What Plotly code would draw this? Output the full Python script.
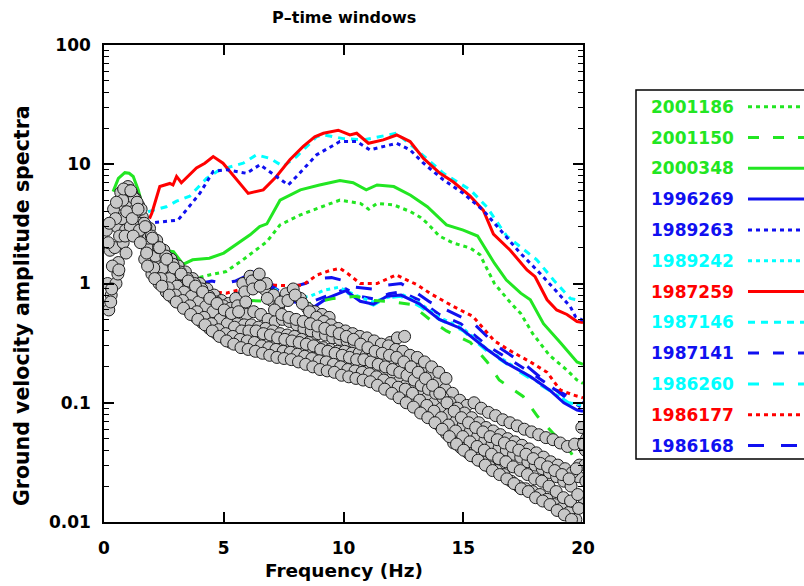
import plotly.graph_objects as go

# ---------------- data ----------------
names = ["2001186", "2001150", "2000348", "1996269", "1989263", "1989242",
         "1987259", "1987146", "1987141", "1986260", "1986177", "1986168"]
colors = ["#22e622", "#22e622", "#22e622", "#1010f0", "#1010f0", "#00ffff",
          "#ff0000", "#00ffff", "#1010f0", "#00ffff", "#ff0000", "#1010f0"]
dashes = ["4px,4px", "11px,14px", "solid", "solid", "4px,4px", "4px,4px",
          "solid", "7px,6px", "11px,14px", "11px,14px", "4px,4px", "16px,17px"]

f_2001186 = [3.0, 3.8, 4.4, 5.1, 5.8, 6.5, 6.8, 7.35, 8.2, 9.3, 9.85, 10.7, 11.05, 11.4, 12.1, 12.8,
             13.2, 13.5, 14.0, 14.6, 15.3, 15.7, 16.3, 17.0, 17.4, 17.9, 18.6, 19.3, 19.75, 20.0]
a_2001186 = [1.05, 1.1, 1.18, 1.26, 1.58, 2.04, 2.24, 3.1, 3.76, 4.56, 5.0, 4.7, 4.2, 4.7, 4.56, 4.0,
             3.6, 3.2, 2.5, 2.18, 1.98, 1.74, 1.0, 0.68, 0.56, 0.38, 0.25, 0.19, 0.155, 0.145]

f_2001150 = [2.5, 3.3, 4.2, 5.0, 6.0, 6.9, 7.8, 8.6, 9.6, 10.5, 11.2, 11.8, 12.8, 13.6, 14.3,
             15.3, 16.0, 16.5, 17.5, 18.1, 18.9, 19.5, 19.9]
a_2001150 = [1.6, 1.2, 0.85, 0.71, 0.72, 0.71, 0.7, 0.68, 0.75, 0.78, 0.72, 0.71, 0.67, 0.5, 0.4,
             0.32, 0.22, 0.155, 0.113, 0.077, 0.052, 0.038, 0.028]

f_2000348 = [0.38, 0.6, 0.87, 1.05, 1.22, 1.43, 1.6, 1.8, 2.0, 2.2, 2.5, 2.9, 3.3, 3.7, 4.4, 5.0,
             5.5, 6.1, 6.5, 6.8, 7.35, 8.2, 9.0, 9.85, 10.4, 10.95, 11.4, 12.1, 12.8, 13.5, 14.3,
             15.0, 15.6, 16.3, 16.8, 17.4, 17.8, 18.35, 19.05, 19.75, 20.0]
a_2000348 = [5.9, 7.6, 8.5, 8.4, 7.9, 6.1, 4.5, 3.2, 2.3, 1.85, 1.9, 1.85, 1.45, 1.58, 1.63, 1.8,
             2.1, 2.56, 3.0, 3.16, 5.0, 6.1, 6.7, 7.3, 7.0, 6.1, 6.7, 6.5, 5.5, 4.4, 3.1,
             2.8, 2.5, 1.48, 1.07, 0.83, 0.73, 0.46, 0.32, 0.22, 0.21]

f_1996269 = [1.5, 2.0, 2.5, 3.0, 3.5, 4.0, 4.6, 5.1, 5.5, 5.9, 6.2, 6.5, 6.8, 7.2, 7.7, 8.3, 8.8,
             9.3, 10.1, 10.7, 11.25, 11.8, 12.4, 13.2, 13.6, 14.0, 14.9, 16.0, 16.8, 17.8, 18.6,
             19.2, 19.75, 20.0]
a_1996269 = [4.5, 2.6, 1.9, 1.65, 1.05, 0.82, 0.68, 0.6, 0.62, 0.95, 1.25, 1.15, 1.0, 0.8, 0.72,
             0.67, 0.64, 0.75, 0.87, 0.71, 0.67, 0.78, 0.8, 0.67, 0.58, 0.5, 0.42, 0.28, 0.215,
             0.166, 0.128, 0.1, 0.087, 0.085]

f_1989263 = [1.8, 2.4, 3.09, 3.51, 4.0, 4.56, 5.12, 5.95, 6.51, 7.2, 7.69, 8.04, 8.88, 9.85, 10.55,
             11.1, 11.66, 12.22, 12.78, 13.34, 14.17, 15.0, 15.84, 16.54, 17.38, 18.2, 18.9, 19.47,
             19.68, 20.0]
a_1989263 = [3.2, 3.3, 3.4, 4.3, 5.7, 8.7, 9.0, 8.4, 9.9, 7.9, 6.7, 7.9, 12.0, 15.5, 15.5,
             13.2, 14.1, 15.0, 13.2, 10.2, 7.4, 5.7, 4.1, 2.8, 1.8, 1.22, 0.86, 0.64, 0.53, 0.49]

f_1989242 = [1.5, 2.0, 2.5, 3.0, 3.5, 4.0, 4.6, 5.1, 5.5, 5.9, 6.3, 6.8, 7.3, 7.8, 8.6, 9.2, 9.8,
             10.5, 11.2, 11.9, 12.5, 13.2, 14.0, 15.0, 16.0, 17.0, 18.0, 18.8, 19.4, 20.0]
a_1989242 = [4.4, 2.5, 1.85, 1.6, 1.05, 0.82, 0.7, 0.62, 0.7, 1.0, 1.2, 1.0, 0.85, 0.75, 0.78,
             0.88, 0.93, 0.8, 0.7, 0.77, 0.8, 0.68, 0.52, 0.42, 0.28, 0.21, 0.155, 0.12, 0.1, 0.095]

f_1987259 = [1.9, 2.0, 2.33, 2.75, 2.88, 3.03, 3.23, 3.86, 4.21, 4.56, 4.97, 5.53, 6.02, 6.65, 7.2,
             7.76, 8.32, 8.8, 9.16, 9.78, 10.27, 10.55, 11.04, 11.66, 12.22, 12.78, 13.34, 14.03,
             14.59, 15.29, 15.84, 16.26, 16.96, 17.66, 18.0, 18.5, 18.9, 19.33, 19.75, 20.0]
a_1987259 = [3.5, 3.9, 6.5, 6.9, 6.7, 7.9, 7.0, 9.3, 10.2, 11.6, 10.2, 7.4, 5.7, 6.1, 7.9,
             10.9, 14.1, 17.0, 18.2, 19.3, 17.6, 18.2, 15.0, 16.0, 17.6, 15.5, 11.2, 8.4,
             7.1, 5.4, 4.1, 2.6, 1.9, 1.3, 1.14, 0.73, 0.6, 0.55, 0.48, 0.47]

f_1987146 = [1.84, 2.6, 3.03, 3.58, 4.28, 4.84, 5.81, 6.37, 6.93, 7.48, 8.04, 8.88, 9.2, 9.99,
             10.83, 12.22, 13.06, 14.17, 15.29, 15.98, 16.54, 16.82, 18.07, 18.77, 19.47, 19.9]
a_1987146 = [4.0, 4.4, 4.9, 5.4, 7.6, 9.0, 10.2, 12.0, 11.2, 9.6, 11.6, 17.0, 17.6, 16.4,
             16.0, 18.2, 13.2, 8.4, 6.1, 4.4, 3.0, 2.5, 1.58, 1.07, 0.75, 0.72]

f_1987141 = [1.5, 2.0, 2.6, 3.0, 3.5, 4.0, 4.6, 5.2, 5.7, 6.1, 6.5, 7.0, 7.5, 8.2, 8.8, 9.4, 10.1,
             10.7, 11.3, 11.9, 12.4, 13.2, 14.0, 14.9, 16.0, 16.8, 17.8, 18.7, 19.3, 19.9]
a_1987141 = [4.5, 2.6, 1.9, 1.65, 1.1, 0.85, 0.72, 0.65, 0.85, 1.2, 1.15, 0.95, 0.82, 0.75, 0.72,
             0.8, 0.9, 0.78, 0.74, 0.82, 0.85, 0.72, 0.55, 0.46, 0.3, 0.24, 0.18, 0.135, 0.11, 0.092]

f_1986260 = [1.5, 2.0, 2.5, 3.0, 3.5, 4.0, 4.6, 5.1, 5.5, 5.9, 6.2, 6.5, 6.8, 7.2, 7.7, 8.3, 8.8,
             9.3, 10.1, 10.7, 11.25, 11.8, 12.4, 13.2, 14.0, 15.0, 16.0, 17.0, 18.0, 18.8, 19.4, 20.0]
a_1986260 = [4.4, 2.5, 1.85, 1.6, 1.0, 0.8, 0.66, 0.6, 0.65, 1.0, 1.28, 1.2, 0.98, 0.78, 0.7,
             0.66, 0.66, 0.74, 0.85, 0.72, 0.66, 0.76, 0.78, 0.64, 0.5, 0.4, 0.27, 0.2, 0.15,
             0.12, 0.1, 0.092]

f_1986177 = [2.5, 3.0, 3.5, 4.0, 4.4, 5.1, 5.8, 6.9, 7.6, 8.3, 8.9, 9.4, 9.85, 10.2, 10.7, 11.4,
             12.2, 13.1, 13.6, 14.6, 15.4, 16.3, 17.0, 17.8, 18.5, 19.05, 19.6, 20.0]
a_1986177 = [1.9, 1.5, 1.1, 0.88, 0.86, 0.83, 0.9, 0.97, 0.96, 0.97, 1.18, 1.28, 1.34, 1.2, 1.0,
             1.0, 1.18, 0.97, 0.83, 0.64, 0.53, 0.33, 0.27, 0.22, 0.18, 0.128, 0.116, 0.11]

f_1986168 = [2.0, 2.6, 3.0, 3.5, 4.0, 4.5, 5.0, 5.5, 6.1, 6.6, 7.2, 7.8, 8.4, 8.9, 9.5, 9.9, 10.5,
             11.2, 11.8, 12.4, 13.0, 13.6, 14.3, 15.4, 16.4, 17.7, 18.8, 19.7, 20.0]
a_1986168 = [2.4, 1.9, 1.6, 1.2, 1.0, 1.05, 1.0, 1.05, 1.2, 1.05, 0.95, 0.93, 1.0, 1.1, 1.12, 1.07,
             0.93, 0.9, 0.97, 1.0, 0.85, 0.7, 0.6, 0.47, 0.30, 0.2, 0.13, 0.105, 0.1]

series_f = [f_2001186, f_2001150, f_2000348, f_1996269, f_1989263, f_1989242,
            f_1987259, f_1987146, f_1987141, f_1986260, f_1986177, f_1986168]
series_a = [a_2001186, a_2001150, a_2000348, a_1996269, a_1989263, a_1989242,
            a_1987259, a_1987146, a_1987141, a_1986260, a_1986177, a_1986168]

# noise spectra (grey circles), sampled on a common frequency grid
noise_freq = [0.1, 0.4, 0.7, 1.0, 1.3, 1.6, 1.9, 2.2, 2.5, 2.8, 3.1, 3.4, 3.7, 4.0, 4.3, 4.6,
              4.9, 5.2, 5.5, 5.8, 6.1, 6.4, 6.7, 7.0, 7.3, 7.6, 7.9, 8.2, 8.5, 8.8, 9.1, 9.4,
              9.7, 10.0, 10.3, 10.6, 10.9, 11.2, 11.5, 11.8, 12.1, 12.4, 12.7, 13.0, 13.3, 13.6,
              13.9, 14.2, 14.5, 14.8, 15.1, 15.4, 15.7, 16.0, 16.3, 16.6, 16.9, 17.2, 17.5, 17.8,
              18.1, 18.4, 18.7, 19.0, 19.3, 19.6, 19.9]
noise_a = [2.8, 4.2, 5.8, 6.5, 5.2, 3.6, 2.9, 2.3, 1.9, 1.6, 1.4, 1.25, 1.1, 1.0, 0.9, 0.8,
           0.72, 0.68, 0.75, 1.0, 1.15, 1.1, 0.9, 0.72, 0.65, 0.82, 0.9, 0.75, 0.62, 0.58, 0.55, 0.52]
noise_b = [1.9, 3.0, 4.5, 5.8, 4.5, 3.0, 2.2, 1.8, 1.5, 1.3, 1.15, 1.0, 0.9, 0.8, 0.7, 0.62,
           0.58, 0.55, 0.52, 0.55, 0.58, 0.55, 0.5, 0.48, 0.5, 0.48, 0.45, 0.42, 0.4, 0.38, 0.37,
           0.35, 0.34, 0.33, 0.32, 0.33, 0.32, 0.3, 0.3, 0.32, 0.35, 0.36]
noise_c = [1.0, 2.0, 3.5, 4.8, 4.0, 2.6, 1.9, 1.5, 1.25, 1.1, 0.95, 0.85, 0.78, 0.7, 0.62, 0.56,
           0.52, 0.48, 0.46, 0.45, 0.45, 0.43, 0.42, 0.4, 0.38, 0.37, 0.36, 0.34, 0.32, 0.3, 0.29,
           0.28, 0.27, 0.27, 0.26, 0.26, 0.25, 0.25, 0.24, 0.23, 0.22, 0.21, 0.2, 0.19, 0.18, 0.17,
           0.15, 0.13, 0.12, 0.105, 0.095, 0.1, 0.09, 0.083, 0.078, 0.072, 0.068, 0.064, 0.06,
           0.057, 0.054, 0.051, 0.049, 0.046, 0.043, 0.045, 0.062]
noise_d = [0.8, 1.5, 2.8, 4.0, 3.2, 2.0, 1.5, 1.2, 1.0, 0.88, 0.8, 0.72, 0.65, 0.58, 0.5, 0.45,
           0.42, 0.4, 0.38, 0.36, 0.35, 0.34, 0.33, 0.31, 0.3, 0.29, 0.28, 0.27, 0.26, 0.25, 0.24,
           0.23, 0.22, 0.21, 0.2, 0.2, 0.19, 0.18, 0.17, 0.16, 0.15, 0.14, 0.13, 0.12, 0.11, 0.1,
           0.09, 0.08, 0.07, 0.065, 0.058, 0.052, 0.048, 0.045, 0.042, 0.04, 0.037, 0.035, 0.032,
           0.03, 0.028, 0.026, 0.024, 0.022, 0.02, 0.024, 0.04]
noise_e = [0.6, 1.0, 2.2, 3.0, 2.5, 1.6, 1.2, 1.0, 0.85, 0.75, 0.68, 0.6, 0.53, 0.47, 0.42, 0.38,
           0.35, 0.32, 0.31, 0.3, 0.29, 0.27, 0.26, 0.255, 0.25, 0.24, 0.23, 0.225, 0.215, 0.205,
           0.2, 0.19, 0.18, 0.175, 0.17, 0.165, 0.16, 0.15, 0.14, 0.13, 0.125, 0.12, 0.11, 0.095,
           0.085, 0.075, 0.065, 0.055, 0.046, 0.042, 0.038, 0.035, 0.032, 0.029, 0.027, 0.025,
           0.022, 0.02, 0.019, 0.018, 0.017, 0.0155, 0.014, 0.013, 0.012, 0.0105, 0.016]
noise_f = [1.4, 2.5, 4.0, 5.2, 4.2, 2.4, 1.7, 1.35, 1.1, 0.95, 0.85, 0.78, 0.7, 0.64, 0.58, 0.5,
           0.46, 0.43, 0.4, 0.4, 0.4, 0.38, 0.37, 0.35, 0.34, 0.33, 0.32, 0.31, 0.3, 0.28, 0.27,
           0.26, 0.25, 0.24, 0.23, 0.23, 0.22, 0.21, 0.2, 0.19, 0.18, 0.17, 0.155, 0.14, 0.13, 0.12,
           0.11, 0.1, 0.09, 0.082, 0.075, 0.068, 0.062, 0.058, 0.054, 0.05, 0.047, 0.044, 0.041,
           0.038, 0.035, 0.032, 0.03, 0.028, 0.026, 0.03, 0.05]
noise_g = [2.2, 3.5, 5.0, 6.0, 4.8, 3.2, 2.5, 2.0, 1.7, 1.45, 1.25, 1.1, 1.0, 0.9, 0.78, 0.7,
           0.65, 0.62, 0.65, 0.85, 1.05, 1.2, 1.0, 0.8, 0.7, 0.72, 0.8, 0.68, 0.58, 0.52, 0.48,
           0.45, 0.42, 0.4, 0.38, 0.36, 0.35, 0.33, 0.31, 0.3, 0.28, 0.27, 0.25, 0.24, 0.22, 0.2,
           0.18, 0.16]
noise_h = [0.7, 1.2, 2.5, 3.5, 2.8, 1.8, 1.35, 1.1, 0.92, 0.8, 0.72, 0.65, 0.58, 0.52, 0.46, 0.41,
           0.38, 0.36, 0.34, 0.33, 0.32, 0.3, 0.29, 0.28, 0.27, 0.265, 0.255, 0.245, 0.235, 0.225,
           0.22, 0.21, 0.2, 0.19, 0.185, 0.18, 0.175, 0.165, 0.155, 0.145, 0.135, 0.13, 0.12,
           0.105, 0.095, 0.085, 0.075, 0.065, 0.058, 0.052, 0.047, 0.043, 0.04, 0.037, 0.034,
           0.032, 0.029, 0.027, 0.025, 0.023, 0.022, 0.02, 0.018, 0.016, 0.015, 0.017, 0.03]
noise_i = [3.2, 4.8, 6.2, 6.0, 4.2, 3.0, 2.4, 2.0, 1.6, 1.35, 1.2, 1.05, 0.95, 0.85, 0.75, 0.68,
           0.6, 0.56, 0.58, 0.7, 0.9, 0.95, 0.75, 0.6, 0.55, 0.52, 0.5, 0.48, 0.46, 0.44, 0.42,
           0.4, 0.38, 0.36, 0.34, 0.31, 0.29, 0.27, 0.26, 0.25, 0.24, 0.22, 0.2, 0.18, 0.16, 0.14,
           0.12, 0.1, 0.085, 0.075, 0.068, 0.062, 0.057, 0.052, 0.049, 0.046, 0.043, 0.04, 0.037,
           0.034, 0.031, 0.029, 0.027, 0.025, 0.023, 0.028, 0.045]
noise_j = [0.9, 1.3, 1.8, 2.5, 2.2, 1.4, 1.1, 0.95, 0.8, 0.7, 0.62, 0.55, 0.5, 0.45, 0.4, 0.36,
           0.33, 0.31, 0.29, 0.28, 0.27, 0.26, 0.25, 0.24, 0.235, 0.23, 0.22, 0.21, 0.2, 0.19,
           0.185, 0.18, 0.17, 0.165, 0.16, 0.155, 0.15, 0.14, 0.13, 0.12, 0.11, 0.1, 0.092, 0.082,
           0.075, 0.068, 0.06, 0.052, 0.045, 0.04, 0.036, 0.033, 0.03, 0.027, 0.025, 0.023, 0.021,
           0.019, 0.018, 0.016, 0.015, 0.014, 0.0125, 0.0115, 0.0105, 0.013, 0.022]
noise_tracks = [noise_a, noise_b, noise_c, noise_d, noise_e, noise_f,
                noise_g, noise_h, noise_i, noise_j]
noise_shift = [0.0, 0.15, 0.05, 0.2, 0.1, 0.25, 0.08, 0.18, 0.12, 0.22]

# ---------------- layout constants ----------------
W, H = 804, 586
ML, MR, MT, MB = 104, 221, 45, 64
PW, PH = W - ML - MR, H - MT - MB
FONT = "DejaVu Sans"


def px_x(p):
    return (p - ML) / PW


def px_y(p):
    return (H - MB - p) / PH


fig = go.Figure()

# lines (draw bottom legend entry first)
for i in reversed(range(len(names))):
    fig.add_trace(go.Scatter(
        x=series_f[i], y=series_a[i], mode="lines", name=names[i],
        line=dict(color=colors[i], width=3, dash=dashes[i]),
        showlegend=False, hoverinfo="skip"))

# noise circles on top
for tr, sh in zip(noise_tracks, noise_shift):
    xs = [f + sh for f in noise_freq[:len(tr)]]
    fig.add_trace(go.Scatter(
        x=xs, y=tr, mode="markers", showlegend=False, hoverinfo="skip",
        marker=dict(size=12, color="#c8c8c8", line=dict(color="#1e1e1e", width=1))))

# ---------------- manual legend (text left, line sample right) ----------------
box_left, box_top, box_bottom = 636, 90, 459
text_right, line_x0, line_x1 = 736, 748, 830
row0, row_step = 106.7, 30.8
shapes = [dict(type="rect", xref="paper", yref="paper",
               x0=px_x(box_left), x1=px_x(900), y0=px_y(box_bottom), y1=px_y(box_top),
               line=dict(color="black", width=1.5), fillcolor="rgba(0,0,0,0)", layer="above")]
annotations = []
for i, nm in enumerate(names):
    yy = px_y(row0 + i * row_step)
    annotations.append(dict(text=nm, xref="paper", yref="paper", x=px_x(text_right), y=yy,
                            xanchor="right", yanchor="middle", showarrow=False,
                            font=dict(family=FONT, size=17, color=colors[i], weight="bold")))
    shapes.append(dict(type="line", xref="paper", yref="paper",
                       x0=px_x(line_x0), x1=px_x(line_x1), y0=yy, y1=yy,
                       line=dict(color=colors[i], width=3, dash=dashes[i])))

annotations.append(dict(text="P\u2013time windows", xref="paper", yref="paper",
                        x=0.5, y=px_y(17), xanchor="center", yanchor="middle", showarrow=False,
                        font=dict(family=FONT, size=16, color="black", weight="bold")))
annotations.append(dict(text="Frequency (Hz)", xref="paper", yref="paper",
                        x=0.5, y=px_y(570), xanchor="center", yanchor="middle", showarrow=False,
                        font=dict(family=FONT, size=18.5, color="black", weight="bold")))
annotations.append(dict(text="Ground velocity amplitude spectra", xref="paper", yref="paper",
                        x=px_x(22), y=px_y(306), xanchor="center", yanchor="middle",
                        showarrow=False, textangle=-90,
                        font=dict(family=FONT, size=20.5, color="black", weight="bold")))

tickfont = dict(family=FONT, size=17, color="black", weight="bold")
fig.update_layout(
    width=W, height=H, margin=dict(l=ML, r=MR, t=MT, b=MB),
    paper_bgcolor="white", plot_bgcolor="white",
    shapes=shapes, annotations=annotations, showlegend=False,
    xaxis=dict(range=[0, 20], tickvals=[0, 5, 10, 15, 20], ticks="inside", ticklen=10,
               tickwidth=1.5, tickcolor="black", showline=True, linecolor="black",
               linewidth=1.5, mirror="allticks", showgrid=False, zeroline=False,
               tickfont=tickfont, ticklabelstandoff=10),
    yaxis=dict(type="log", range=[-2, 2], tickvals=[0.01, 0.1, 1, 10, 100],
               ticktext=["0.01", "0.1", "1", "10", "100"], ticks="inside", ticklen=10,
               tickwidth=1.5, tickcolor="black", showline=True, linecolor="black",
               linewidth=1.5, mirror="allticks", showgrid=False, zeroline=False,
               tickfont=tickfont, ticklabelstandoff=8,
               minor=dict(ticks="inside", ticklen=5, tickwidth=1, tickcolor="black",
                          dtick="D1", showgrid=False)),
)

fig.write_html("out.html")
